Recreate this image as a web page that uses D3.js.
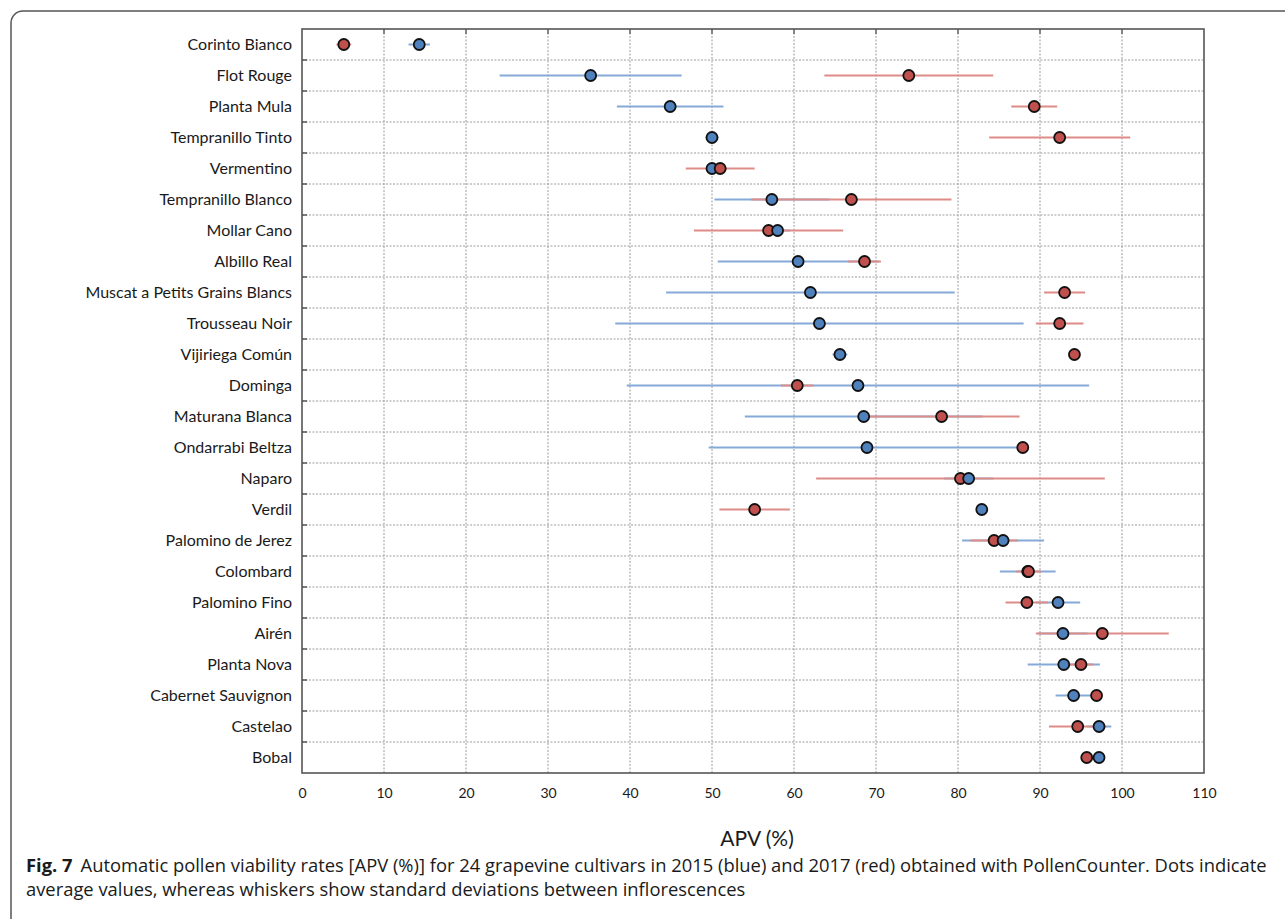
<!DOCTYPE html>
<html>
<head>
<meta charset="utf-8">
<script src="https://cdn.jsdelivr.net/npm/d3@7"></script>
<style>
  html, body { margin: 0; padding: 0; background: #fff; }
  svg { display: block; }
</style>
</head>
<body>
<svg id="chart" width="1285" height="919"></svg>
<script>
// ---- Data ----
const categories = [
  "Corinto Bianco", "Flot Rouge", "Planta Mula", "Tempranillo Tinto", "Vermentino",
  "Tempranillo Blanco", "Mollar Cano", "Albillo Real", "Muscat a Petits Grains Blancs",
  "Trousseau Noir", "Vijiriega Común", "Dominga", "Maturana Blanca", "Ondarrabi Beltza",
  "Naparo", "Verdil", "Palomino de Jerez", "Colombard", "Palomino Fino", "Airén",
  "Planta Nova", "Cabernet Sauvignon", "Castelao", "Bobal"
];
// 2015 (blue)
const mean2015 = [14.3, 35.2, 44.9, 50.0, 50.0, 57.3, 58.0, 60.5, 62.0, 63.1, 65.6, 67.8,
                  68.5, 68.9, 81.3, 82.9, 85.5, 88.5, 92.2, 92.8, 92.9, 94.1, 97.2, 97.2];
const sd2015   = [1.3, 11.1, 6.5, 0.8, 0.5, 7.0, 1.5, 9.8, 17.6, 24.9, 0.9, 28.2,
                  14.5, 19.3, 3.0, 0.5, 5.0, 3.4, 2.7, 3.0, 4.4, 2.2, 1.5, 0.5];
// 2017 (red)
const mean2017 = [5.1, 74.0, 89.3, 92.4, 51.0, 67.0, 56.9, 68.6, 93.0, 92.4, 94.2, 60.4,
                  78.0, 87.9, 80.3, 55.2, 84.4, 88.6, 88.4, 97.6, 95.0, 96.9, 94.6, 95.7];
const sd2017   = [0.9, 10.3, 2.8, 8.6, 4.2, 12.2, 9.1, 2.0, 2.5, 2.9, 0.3, 2.0,
                  9.5, 0.3, 17.6, 4.3, 2.9, 1.5, 2.6, 8.1, 1.5, 0.5, 3.5, 0.5];
const xTicks = [0, 10, 20, 30, 40, 50, 60, 70, 80, 90, 100, 110];
const xTitle = "APV (%)";
const captionBold = "Fig. 7";
const captionLine1 = "Automatic pollen viability rates [APV (%)] for 24 grapevine cultivars in 2015 (blue) and 2017 (red) obtained with PollenCounter. Dots indicate";
const captionLine2 = "average values, whereas whiskers show standard deviations between inflorescences";

// ---- Layout ----
const plot = { left: 302, right: 1204, top: 29, bottom: 773 };
const svg = d3.select("#chart");

const x = d3.scaleLinear().domain([0, 110]).range([plot.left, plot.right]);
const y = d3.scaleBand().domain(categories).range([plot.top, plot.bottom]).padding(0);
const yEdge = d3.scaleLinear().domain([0, categories.length]).range([plot.top, plot.bottom]);

// outer frame (rounded corner top-left, open on right and bottom)
const fr = { x: 11, y: 11, r: 12 };
svg.append("path")
  .attr("d", `M1285,${fr.y} L${fr.x + fr.r},${fr.y} A${fr.r},${fr.r} 0 0 0 ${fr.x},${fr.y + fr.r} L${fr.x},919`)
  .attr("fill", "none").attr("stroke", "#555").attr("stroke-width", 1.5);

// grid lines
const gridColor = "#9c9c9c";
svg.append("g").selectAll("line")
  .data(xTicks.filter(t => t > 0 && t < 110))
  .join("line")
  .attr("x1", d => x(d)).attr("x2", d => x(d))
  .attr("y1", plot.top).attr("y2", plot.bottom)
  .attr("stroke", gridColor).attr("stroke-width", 1).attr("stroke-dasharray", "2,1.5");

svg.append("g").selectAll("line")
  .data(d3.range(1, categories.length))
  .join("line")
  .attr("x1", plot.left).attr("x2", plot.right)
  .attr("y1", d => yEdge(d)).attr("y2", d => yEdge(d))
  .attr("stroke", gridColor).attr("stroke-width", 1).attr("stroke-dasharray", "2,1.5");

// inward tick marks
svg.append("g").selectAll("line")
  .data(d3.range(1, categories.length))
  .join("line")
  .attr("x1", plot.left).attr("x2", plot.left + 5)
  .attr("y1", d => yEdge(d)).attr("y2", d => yEdge(d))
  .attr("stroke", "#555").attr("stroke-width", 1.5);
svg.append("g").selectAll("line")
  .data(xTicks.filter(t => t > 0 && t < 110))
  .join("line")
  .attr("x1", d => x(d)).attr("x2", d => x(d))
  .attr("y1", plot.top).attr("y2", plot.top + 5)
  .attr("stroke", "#666").attr("stroke-width", 1.5);

// plot border
svg.append("rect")
  .attr("x", plot.left).attr("y", plot.top)
  .attr("width", plot.right - plot.left).attr("height", plot.bottom - plot.top)
  .attr("fill", "none").attr("stroke", "#555").attr("stroke-width", 1.6);

// axes
const yAxis = svg.append("g")
  .attr("transform", `translate(${plot.left},0)`)
  .call(d3.axisLeft(y).tickSize(0).tickPadding(10));
yAxis.select(".domain").remove();
yAxis.selectAll("text")
  .attr("font-family", "Lato, 'Open Sans', sans-serif")
  .attr("font-size", 16).attr("fill", "#1a1a1a");

const xAxis = svg.append("g")
  .attr("transform", `translate(0,${plot.bottom})`)
  .call(d3.axisBottom(x).tickValues(xTicks).tickSize(0).tickPadding(15).tickFormat(d3.format("d")));
xAxis.select(".domain").remove();
xAxis.selectAll("text")
  .attr("font-family", "Lato, 'Open Sans', sans-serif")
  .attr("font-size", 14).attr("fill", "#1a1a1a");

svg.append("text")
  .attr("x", (plot.left + plot.right) / 2 + 4).attr("y", 846)
  .attr("text-anchor", "middle")
  .attr("font-family", "Lato, 'Open Sans', sans-serif")
  .attr("font-size", 21).attr("fill", "#1a1a1a")
  .text(xTitle);

// series
const series2015 = categories.map((c, i) => ({ cat: c, m: mean2015[i], sd: sd2015[i], key: "b" }));
const series2017 = categories.map((c, i) => ({ cat: c, m: mean2017[i], sd: sd2017[i], key: "r" }));
const colors = {
  b: { line: "#86aad8", fill: "#4f81bd" },
  r: { line: "#de8c88", fill: "#c0504d" }
};

const yc = c => y(c) + y.bandwidth() / 2;

function whiskers(data) {
  svg.append("g").selectAll("line")
    .data(data)
    .join("line")
    .attr("x1", d => x(d.m - d.sd)).attr("x2", d => x(d.m + d.sd))
    .attr("y1", d => yc(d.cat)).attr("y2", d => yc(d.cat))
    .attr("stroke", d => colors[d.key].line).attr("stroke-width", 2);
}
whiskers(series2015);
whiskers(series2017);

// dots: within each row, drawn left to right
const dots = series2015.concat(series2017).sort((a, b) => a.m - b.m);
svg.append("g").selectAll("circle")
  .data(dots)
  .join("circle")
  .attr("cx", d => x(d.m)).attr("cy", d => yc(d.cat))
  .attr("r", 5.5)
  .attr("fill", d => colors[d.key].fill)
  .attr("stroke", "#111").attr("stroke-width", 1.8);

// caption
const capFont = "'Open Sans', 'Noto Sans', sans-serif";
const capX = 26, capGap = 8;
const capB = svg.append("text")
  .attr("x", capX).attr("y", 872)
  .attr("font-family", capFont).attr("font-size", 15).attr("font-weight", "bold")
  .attr("fill", "#1a1a1a").text(captionBold);
const cap1 = svg.append("text")
  .attr("y", 872)
  .attr("font-family", capFont).attr("font-size", 15)
  .attr("fill", "#1a1a1a").text(captionLine1);
const cap2 = svg.append("text")
  .attr("x", capX).attr("y", 896)
  .attr("font-family", capFont).attr("font-size", 15)
  .attr("fill", "#1a1a1a").text(captionLine2);
// fit first caption line to reference width
const targetW = 1267 - capX;
const totalW = capB.node().getComputedTextLength() + capGap + cap1.node().getComputedTextLength();
const fs = 15 * (targetW - capGap) / (totalW - capGap);
capB.attr("font-size", fs);
cap1.attr("font-size", fs);
cap2.attr("font-size", fs);
cap1.attr("x", capX + capB.node().getComputedTextLength() + capGap);
</script>
</body>
</html>
